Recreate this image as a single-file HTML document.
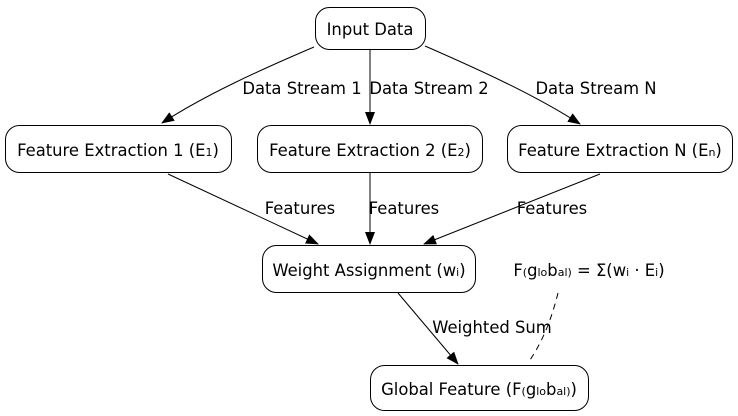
<!DOCTYPE html>
<html><head><meta charset="utf-8"><style>
html,body{margin:0;padding:0;background:#fff;}
svg{display:block;font-family:"DejaVu Sans","Liberation Sans",sans-serif;font-size:16.4px;}
</style></head><body>
<svg width="738" height="416" viewBox="0 0 738 416" xmlns="http://www.w3.org/2000/svg">
<defs><marker id="a" markerWidth="13" markerHeight="10" refX="12" refY="5" orient="auto" markerUnits="userSpaceOnUse"><path d="M0,0 L13,5 L0,10 z" fill="#000"/></marker></defs>
<g fill="#fff" stroke="#000" stroke-width="1">
<rect x="315.5" y="7.5" width="110" height="42" rx="14"/>
<rect x="5.5" y="125.5" width="226" height="47" rx="14"/>
<rect x="257.5" y="125.5" width="225" height="47" rx="14"/>
<rect x="507.5" y="125.5" width="225" height="47" rx="14"/>
<rect x="262.5" y="245.5" width="213" height="47" rx="14"/>
<rect x="370.5" y="365.5" width="218" height="45" rx="14"/>
</g>
<g fill="none" stroke="#000" stroke-width="1">
<path d="M314,47 C260,70 205,95 162,123" marker-end="url(#a)"/>
<path d="M370,50 L370,124" marker-end="url(#a)"/>
<path d="M425,46 C480,70 535,95 580,124" marker-end="url(#a)"/>
<path d="M168,174 L318,244" marker-end="url(#a)"/>
<path d="M370,173 L370,244" marker-end="url(#a)"/>
<path d="M600,174 L424,244" marker-end="url(#a)"/>
<path d="M398,293 L458,364" marker-end="url(#a)"/>
<path d="M558,293 C550,325 540,345 530,360" stroke-dasharray="6,5"/>
</g>
<g fill="#000">
<text x="370" y="35" text-anchor="middle">Input Data</text>
<text x="118" y="156" text-anchor="middle">Feature Extraction 1 (E<tspan font-size="11">1</tspan>)</text>
<text x="370" y="156" text-anchor="middle">Feature Extraction 2 (E<tspan font-size="11">2</tspan>)</text>
<text x="620" y="156" text-anchor="middle">Feature Extraction N (E<tspan font-size="11">n</tspan>)</text>
<text x="369" y="276" text-anchor="middle">Weight Assignment (w<tspan font-size="11">i</tspan>)</text>
<text x="479" y="395" text-anchor="middle">Global Feature (F<tspan font-size="11">(</tspan>g<tspan font-size="11">lo</tspan>b<tspan font-size="11">al</tspan><tspan font-size="11">)</tspan>)</text>
<text x="589" y="276" text-anchor="middle">F<tspan font-size="11">(</tspan>g<tspan font-size="11">lo</tspan>b<tspan font-size="11">al</tspan><tspan font-size="11">)</tspan> = Σ(w<tspan font-size="11">i</tspan> · E<tspan font-size="11">i</tspan>)</text>
<text x="302" y="94" text-anchor="middle">Data Stream 1</text>
<text x="429" y="94" text-anchor="middle">Data Stream 2</text>
<text x="596" y="94" text-anchor="middle">Data Stream N</text>
<text x="300" y="214" text-anchor="middle">Features</text>
<text x="404" y="214" text-anchor="middle">Features</text>
<text x="552" y="214" text-anchor="middle">Features</text>
<text x="492" y="333" text-anchor="middle">Weighted Sum</text>
</g>
</svg>
</body></html>
